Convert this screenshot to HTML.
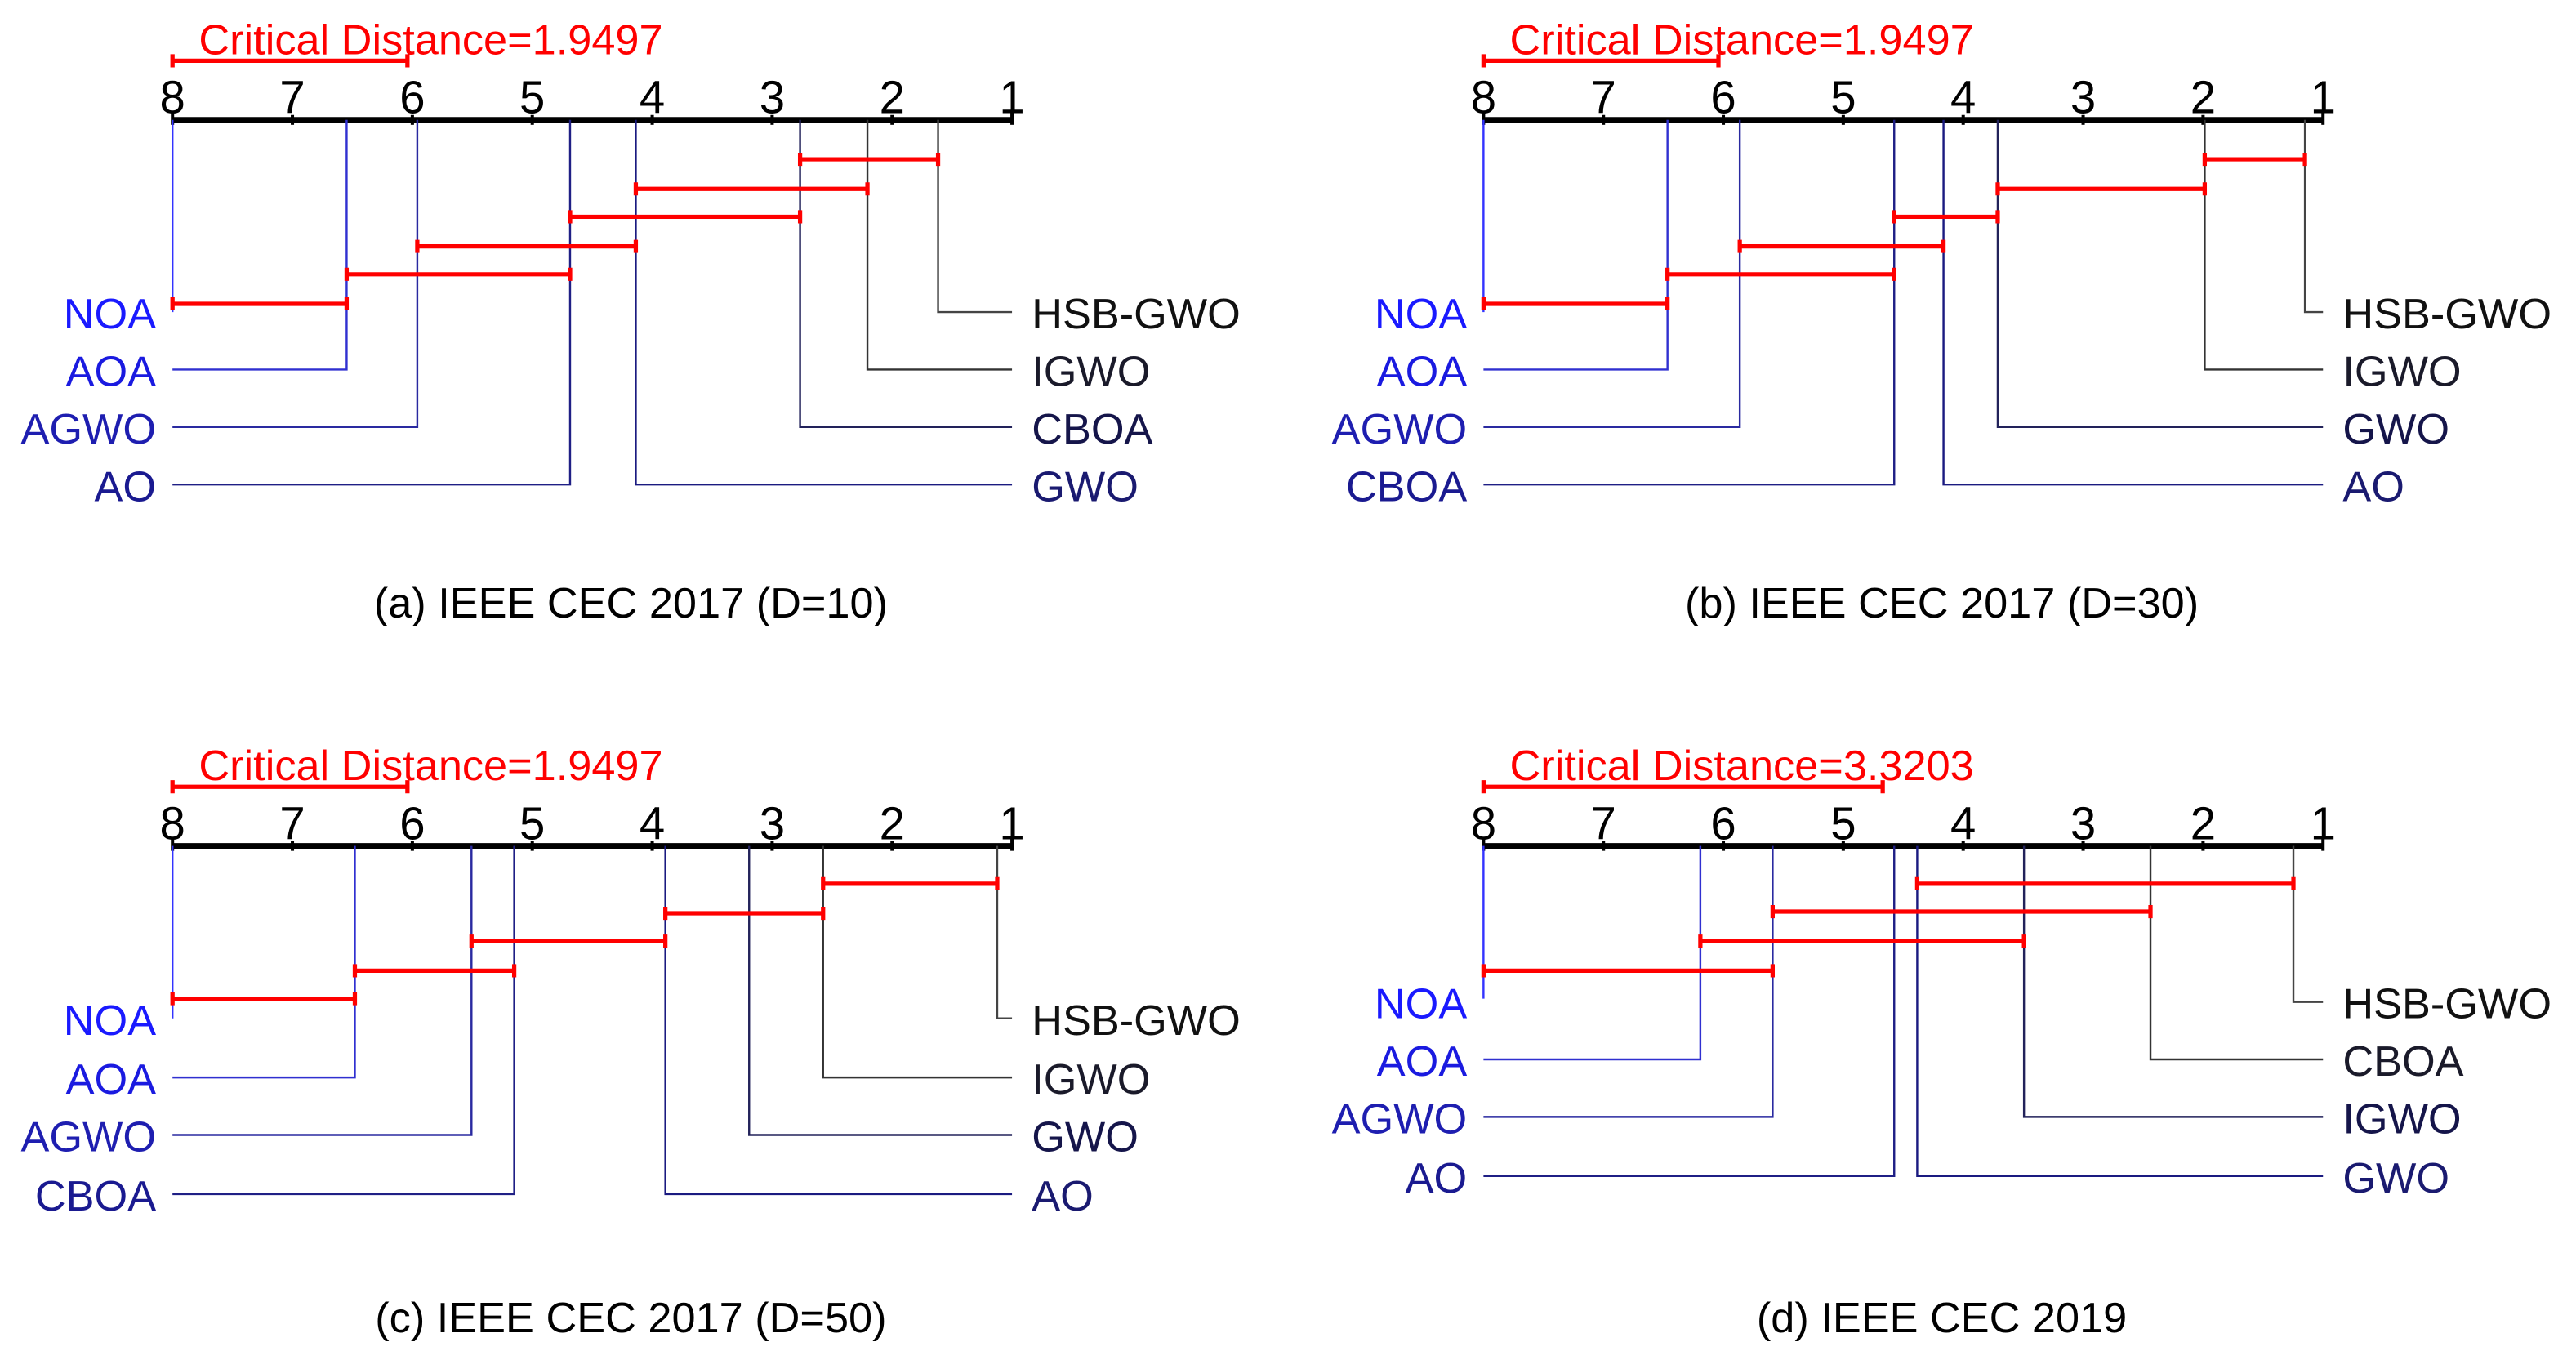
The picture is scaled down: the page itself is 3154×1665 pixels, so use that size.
<!DOCTYPE html>
<html><head><meta charset="utf-8"><style>
html,body{margin:0;padding:0;background:#fff;}
svg{display:block;}
text{font-family:"Liberation Sans",Arial,sans-serif;}
.t{font-size:28px;text-anchor:middle;fill:#000;}
.l{font-size:26px;text-anchor:end;}
.r{font-size:26px;text-anchor:start;}
.cd{font-size:26px;fill:#f00;}
.cap{font-size:26px;text-anchor:middle;fill:#000;}
.ax{stroke:#000;stroke-width:3.5;}
.rb{stroke:#f00;stroke-width:2.6;fill:none;}
.ln{fill:none;stroke-width:1.2;}
</style></head><body>
<svg width="3154" height="1665" viewBox="0 0 1568 828" preserveAspectRatio="none" xmlns="http://www.w3.org/2000/svg">
<defs>
<g id="axis">
<line class="ax" x1="105" y1="73" x2="616" y2="73"/>
<g stroke="#000" stroke-width="2">
<line x1="105" y1="68" x2="105" y2="76"/><line x1="178" y1="70" x2="178" y2="76"/><line x1="251" y1="70" x2="251" y2="76"/><line x1="324" y1="70" x2="324" y2="76"/><line x1="397" y1="70" x2="397" y2="76"/><line x1="470" y1="70" x2="470" y2="76"/><line x1="543" y1="70" x2="543" y2="76"/><line x1="616" y1="68" x2="616" y2="76"/>
</g>
<text class="t" x="105" y="69">8</text><text class="t" x="178" y="69">7</text><text class="t" x="251" y="69">6</text><text class="t" x="324" y="69">5</text><text class="t" x="397" y="69">4</text><text class="t" x="470" y="69">3</text><text class="t" x="543" y="69">2</text><text class="t" x="616" y="69">1</text>
</g>
</defs>

<!-- (a) -->
<g>
<use href="#axis"/>
<text class="cd" x="121" y="33">Critical Distance=1.9497</text>
<path class="rb" d="M105 37H248M105 33V41M248 33V41"/>
<path class="ln" stroke="#3333ff" d="M105 73V190"/>
<path class="ln" stroke="#3030d0" d="M211 73V225H105"/>
<path class="ln" stroke="#2a2aa0" d="M254 73V260H105"/>
<path class="ln" stroke="#1f1f85" d="M347 73V295H105"/>
<path class="ln" stroke="#444" d="M571 73V190H616"/>
<path class="ln" stroke="#333" d="M528 73V225H616"/>
<path class="ln" stroke="#22225a" d="M487 73V260H616"/>
<path class="ln" stroke="#1a1a80" d="M387 73V295H616"/>
<path class="rb" d="M487 97H571M487 93V101M571 93V101"/>
<path class="rb" d="M387 115H528M387 111V119M528 111V119"/>
<path class="rb" d="M347 132H487M347 128V136M487 128V136"/>
<path class="rb" d="M254 150H387M254 146V154M387 146V154"/>
<path class="rb" d="M211 167H347M211 163V171M347 163V171"/>
<path class="rb" d="M105 185H211M105 181V189M211 181V189"/>
<text class="l" x="95" y="200" fill="#1a1aff">NOA</text>
<text class="l" x="95" y="235" fill="#1a1ae0">AOA</text>
<text class="l" x="95" y="270" fill="#1e1eb0">AGWO</text>
<text class="l" x="95" y="305" fill="#1a1a90">AO</text>
<text class="r" x="628" y="200" fill="#111">HSB-GWO</text>
<text class="r" x="628" y="235" fill="#1a1a2a">IGWO</text>
<text class="r" x="628" y="270" fill="#15154a">CBOA</text>
<text class="r" x="628" y="305" fill="#1a1a70">GWO</text>
<text class="cap" x="384" y="376">(a) IEEE CEC 2017 (D=10)</text>
</g>

<!-- (b) -->
<g transform="translate(798,0)">
<use href="#axis"/>
<text class="cd" x="121" y="33">Critical Distance=1.9497</text>
<path class="rb" d="M105 37H248M105 33V41M248 33V41"/>
<path class="ln" stroke="#3333ff" d="M105 73V190"/>
<path class="ln" stroke="#3030d0" d="M217 73V225H105"/>
<path class="ln" stroke="#2a2aa0" d="M261 73V260H105"/>
<path class="ln" stroke="#1f1f85" d="M355 73V295H105"/>
<path class="ln" stroke="#444" d="M605 73V190H616"/>
<path class="ln" stroke="#333" d="M544 73V225H616"/>
<path class="ln" stroke="#22225a" d="M418 73V260H616"/>
<path class="ln" stroke="#1a1a80" d="M385 73V295H616"/>
<path class="rb" d="M544 97H605M544 93V101M605 93V101"/>
<path class="rb" d="M418 115H544M418 111V119M544 111V119"/>
<path class="rb" d="M355 132H418M355 128V136M418 128V136"/>
<path class="rb" d="M261 150H385M261 146V154M385 146V154"/>
<path class="rb" d="M217 167H355M217 163V171M355 163V171"/>
<path class="rb" d="M105 185H217M105 181V189M217 181V189"/>
<text class="l" x="95" y="200" fill="#1a1aff">NOA</text>
<text class="l" x="95" y="235" fill="#1a1ae0">AOA</text>
<text class="l" x="95" y="270" fill="#1e1eb0">AGWO</text>
<text class="l" x="95" y="305" fill="#1a1a90">CBOA</text>
<text class="r" x="628" y="200" fill="#111">HSB-GWO</text>
<text class="r" x="628" y="235" fill="#1a1a2a">IGWO</text>
<text class="r" x="628" y="270" fill="#15154a">GWO</text>
<text class="r" x="628" y="305" fill="#1a1a70">AO</text>
<text class="cap" x="384" y="376">(b) IEEE CEC 2017 (D=30)</text>
</g>

<!-- (c) -->
<g transform="translate(0,442)">
<use href="#axis"/>
<text class="cd" x="121" y="33">Critical Distance=1.9497</text>
<path class="rb" d="M105 37H248M105 33V41M248 33V41"/>
<path class="ln" stroke="#3333ff" d="M105 73V178"/>
<path class="ln" stroke="#3030d0" d="M216 73V214H105"/>
<path class="ln" stroke="#2a2aa0" d="M287 73V249H105"/>
<path class="ln" stroke="#1f1f85" d="M313 73V285H105"/>
<path class="ln" stroke="#444" d="M607 73V178H616"/>
<path class="ln" stroke="#333" d="M501 73V214H616"/>
<path class="ln" stroke="#22225a" d="M456 73V249H616"/>
<path class="ln" stroke="#1a1a80" d="M405 73V285H616"/>
<path class="rb" d="M501 96H607M501 92V100M607 92V100"/>
<path class="rb" d="M405 114H501M405 110V118M501 110V118"/>
<path class="rb" d="M287 131H405M287 127V135M405 127V135"/>
<path class="rb" d="M216 149H313M216 145V153M313 145V153"/>
<path class="rb" d="M105 166H216M105 162V170M216 162V170"/>
<text class="l" x="95" y="188" fill="#1a1aff">NOA</text>
<text class="l" x="95" y="224" fill="#1a1ae0">AOA</text>
<text class="l" x="95" y="259" fill="#1e1eb0">AGWO</text>
<text class="l" x="95" y="295" fill="#1a1a90">CBOA</text>
<text class="r" x="628" y="188" fill="#111">HSB-GWO</text>
<text class="r" x="628" y="224" fill="#1a1a2a">IGWO</text>
<text class="r" x="628" y="259" fill="#15154a">GWO</text>
<text class="r" x="628" y="295" fill="#1a1a70">AO</text>
<text class="cap" x="384" y="369">(c) IEEE CEC 2017 (D=50)</text>
</g>

<!-- (d) -->
<g transform="translate(798,442)">
<use href="#axis"/>
<text class="cd" x="121" y="33">Critical Distance=3.3203</text>
<path class="rb" d="M105 37H348M105 33V41M348 33V41"/>
<path class="ln" stroke="#3333ff" d="M105 73V166"/>
<path class="ln" stroke="#3030d0" d="M237 73V203H105"/>
<path class="ln" stroke="#2a2aa0" d="M281 73V238H105"/>
<path class="ln" stroke="#1f1f85" d="M355 73V274H105"/>
<path class="ln" stroke="#444" d="M598 73V168H616"/>
<path class="ln" stroke="#333" d="M511 73V203H616"/>
<path class="ln" stroke="#22225a" d="M434 73V238H616"/>
<path class="ln" stroke="#1a1a80" d="M369 73V274H616"/>
<path class="rb" d="M369 96H598M369 92V100M598 92V100"/>
<path class="rb" d="M281 113H511M281 109V117M511 109V117"/>
<path class="rb" d="M237 131H434M237 127V135M434 127V135"/>
<path class="rb" d="M105 149H281M105 145V153M281 145V153"/>
<text class="l" x="95" y="178" fill="#1a1aff">NOA</text>
<text class="l" x="95" y="213" fill="#1a1ae0">AOA</text>
<text class="l" x="95" y="248" fill="#1e1eb0">AGWO</text>
<text class="l" x="95" y="284" fill="#1a1a90">AO</text>
<text class="r" x="628" y="178" fill="#111">HSB-GWO</text>
<text class="r" x="628" y="213" fill="#1a1a2a">CBOA</text>
<text class="r" x="628" y="248" fill="#15154a">IGWO</text>
<text class="r" x="628" y="284" fill="#1a1a70">GWO</text>
<text class="cap" x="384" y="369">(d) IEEE CEC 2019</text>
</g>
</svg>
</body></html>
